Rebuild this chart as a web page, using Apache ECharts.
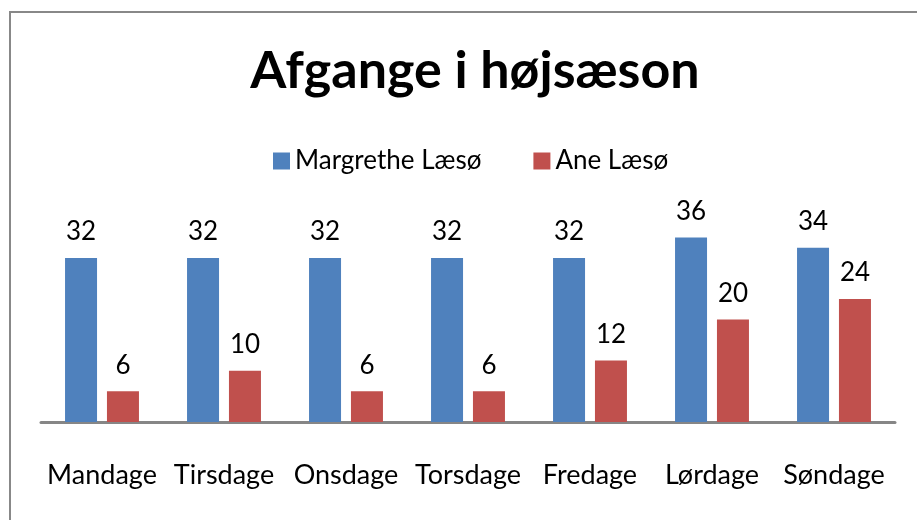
<!DOCTYPE html>
<html><head><meta charset="utf-8">
<script src="https://cdn.jsdelivr.net/npm/echarts@6/dist/echarts.min.js"></script>
<style>html,body{margin:0;padding:0;background:#fff}#c{width:917px;height:520px}</style>
</head><body><div id="c"></div>
<script>
const categories = ['Mandage','Tirsdage','Onsdage','Torsdage','Fredage','Lørdage','Søndage'];
const margretheValues = [32,32,32,32,32,36,34];
const aneValues = [6,10,6,6,12,20,24];
const seriesNames = ['Margrethe Læsø','Ane Læsø'];
const titleText = 'Afgange i højsæson';

const chart = echarts.init(document.getElementById('c'), null, {renderer:'canvas'});
const font = 'Lato, "Open Sans", sans-serif';
const labelStyle = {show:true, position:'top', distance:13, color:'#000', fontSize:26, fontFamily:font};
chart.setOption({
  animation:false,
  backgroundColor:'#fff',
  graphic:[{type:'rect', shape:{x:10, y:12, width:940, height:540}, style:{fill:'none', stroke:'#888', lineWidth:2}}],
  title:{text:titleText, left:470, textAlign:'center', top:40,
    textStyle:{fontSize:52, fontWeight:'bold', color:'#000', fontFamily:font}},
  legend:{data:seriesNames, top:143, left:268, itemWidth:17, itemHeight:17, itemGap:52,
    icon:'rect', textStyle:{fontSize:26, color:'#000', fontFamily:font}},
  grid:{left:41, right:22, top:217, bottom:98, containLabel:false},
  xAxis:{type:'category', data:categories,
    axisLine:{lineStyle:{color:'#868686', width:3}},
    axisTick:{show:false},
    axisLabel:{color:'#000', fontSize:27, fontFamily:font, margin:40, interval:0}},
  yAxis:{type:'value', min:0, max:40, show:false, splitLine:{show:false}},
  series:[
    {name:seriesNames[0], type:'bar', data:margretheValues, barWidth:32, barGap:'31%',
     itemStyle:{color:'#4F81BD'}, label:labelStyle},
    {name:seriesNames[1], type:'bar', data:aneValues, barWidth:32,
     itemStyle:{color:'#C0504D'}, label:labelStyle}
  ]
});
</script></body></html>
